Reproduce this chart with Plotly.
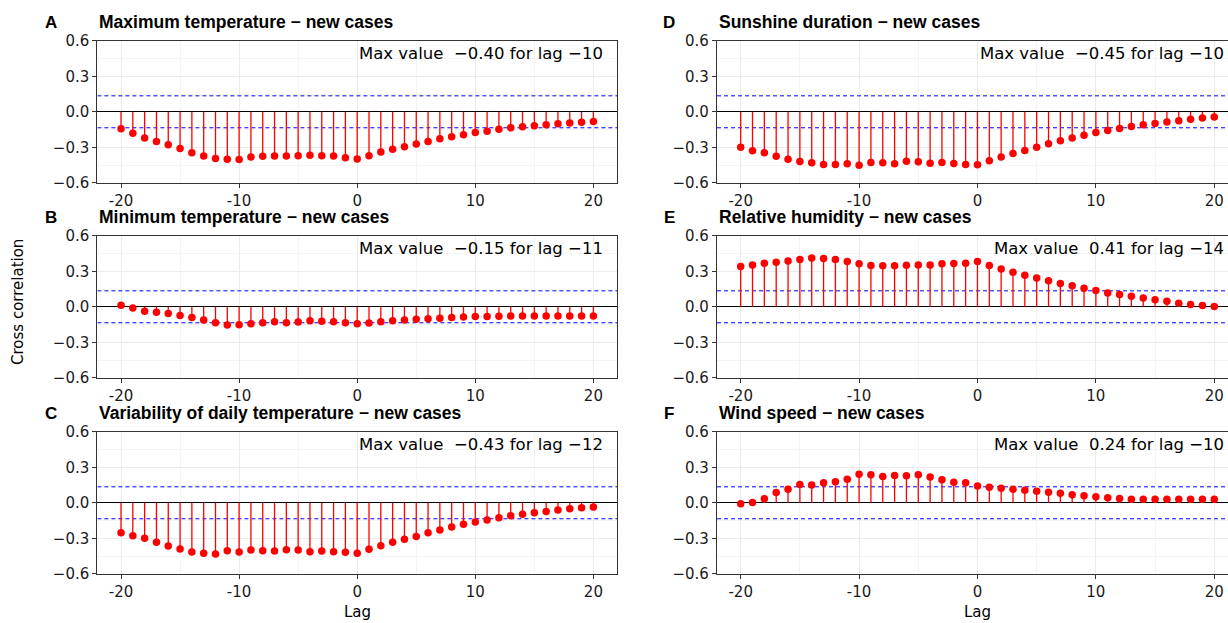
import plotly.graph_objects as go

lags = list(range(-20, 21))

max_temperature = [-0.144, -0.181, -0.221, -0.250, -0.279, -0.310, -0.345, -0.374, -0.394, -0.402,
                   -0.404, -0.382, -0.376, -0.374, -0.374, -0.371, -0.368, -0.371, -0.374, -0.388,
                   -0.398, -0.371, -0.339, -0.316, -0.296, -0.273, -0.250, -0.227, -0.210, -0.193,
                   -0.175, -0.164, -0.147, -0.135, -0.126, -0.118, -0.109, -0.100, -0.095, -0.089,
                   -0.083]
min_temperature = [0.014, -0.011, -0.037, -0.046, -0.057, -0.074, -0.091, -0.111, -0.134, -0.154,
                   -0.151, -0.143, -0.134, -0.126, -0.134, -0.129, -0.117, -0.123, -0.126, -0.134,
                   -0.143, -0.137, -0.126, -0.117, -0.111, -0.106, -0.100, -0.097, -0.091, -0.086,
                   -0.083, -0.083, -0.080, -0.077, -0.077, -0.077, -0.077, -0.077, -0.077, -0.077,
                   -0.077]
temp_variability = [-0.253, -0.278, -0.300, -0.334, -0.366, -0.390, -0.416, -0.427, -0.433, -0.405,
                    -0.416, -0.399, -0.405, -0.408, -0.396, -0.399, -0.413, -0.408, -0.413, -0.418,
                    -0.427, -0.393, -0.363, -0.334, -0.309, -0.284, -0.253, -0.230, -0.205, -0.182,
                    -0.163, -0.146, -0.127, -0.109, -0.096, -0.084, -0.073, -0.061, -0.051, -0.042,
                    -0.036]
sunshine = [-0.299, -0.330, -0.345, -0.376, -0.402, -0.420, -0.431, -0.446, -0.446, -0.440,
            -0.452, -0.428, -0.431, -0.440, -0.417, -0.422, -0.434, -0.428, -0.437, -0.446,
            -0.448, -0.414, -0.382, -0.353, -0.328, -0.299, -0.270, -0.244, -0.221, -0.198,
            -0.175, -0.158, -0.141, -0.124, -0.109, -0.098, -0.086, -0.075, -0.063, -0.052,
            -0.043]
humidity = [0.340, 0.354, 0.369, 0.377, 0.386, 0.400, 0.412, 0.409, 0.400, 0.383,
            0.363, 0.349, 0.346, 0.346, 0.351, 0.354, 0.354, 0.363, 0.366, 0.369,
            0.383, 0.349, 0.320, 0.291, 0.266, 0.243, 0.220, 0.197, 0.177, 0.157,
            0.137, 0.117, 0.103, 0.089, 0.074, 0.060, 0.046, 0.031, 0.020, 0.011,
            0.003]
wind_speed = [-0.009, 0.003, 0.034, 0.086, 0.114, 0.154, 0.151, 0.169, 0.177, 0.200,
              0.242, 0.238, 0.223, 0.231, 0.229, 0.236, 0.217, 0.194, 0.174, 0.169,
              0.143, 0.131, 0.123, 0.114, 0.106, 0.097, 0.089, 0.080, 0.069, 0.060,
              0.051, 0.043, 0.037, 0.031, 0.031, 0.031, 0.031, 0.031, 0.031, 0.031,
              0.031]

ci_bound = 0.135

series = [max_temperature, min_temperature, temp_variability, sunshine, humidity, wind_speed]
letters = ["A", "B", "C", "D", "E", "F"]
titles = ["Maximum temperature \u2212 new cases",
          "Minimum temperature \u2212 new cases",
          "Variability of daily temperature \u2212 new cases",
          "Sunshine duration \u2212 new cases",
          "Relative humidity \u2212 new cases",
          "Wind speed \u2212 new cases"]
max_labels = ["Max value\u00a0 \u22120.40 for lag \u221210",
              "Max value\u00a0 \u22120.15 for lag \u221211",
              "Max value\u00a0 \u22120.43 for lag \u221212",
              "Max value\u00a0 \u22120.45 for lag \u221210",
              "Max value\u00a0 0.41 for lag \u221214",
              "Max value\u00a0 0.24 for lag \u221210"]
x_tickvals = [-20, -10, 0, 10, 20]
x_ticktext = ["-20", "-10", "0", "10", "20"]
y_tickvals = [-0.6, -0.3, 0.0, 0.3, 0.6]
y_ticktext = ["\u22120.6", "\u22120.3", "0.0", "0.3", "0.6"]

W, H = 1228, 623
TITLE_FONT = "Liberation Sans, Arial, sans-serif"
TEXT_FONT = "DejaVu Sans, sans-serif"
x_doms = [[97.4 / W, 617.0 / W], [717.0 / W, 1.0]]
x_ranges = [[-22, 22], [-22, 21.16]]
panel_tops = [40.8, 235.8, 431.8]
panel_h = 142.0

fig = go.Figure()
layout_axes = {}
annotations = []

for i, vals in enumerate(series):
    col, row = i // 3, i % 3
    n = i + 1
    xname = "x" if n == 1 else f"x{n}"
    yname = "y" if n == 1 else f"y{n}"
    top = panel_tops[row]
    ydom = [1 - (top + panel_h) / H, 1 - top / H]

    for c in (ci_bound, -ci_bound):
        fig.add_trace(go.Scatter(x=x_ranges[col], y=[c, c], mode="lines",
                                 line=dict(color="blue", width=1, dash="4px,3px"),
                                 xaxis=xname, yaxis=yname, showlegend=False, hoverinfo="skip"))

    sx, sy = [], []
    for l, v in zip(lags, vals):
        sx += [l, l, None]
        sy += [0, v, None]
    fig.add_trace(go.Scatter(x=sx, y=sy, mode="lines", line=dict(color="red", width=1.3),
                             xaxis=xname, yaxis=yname, showlegend=False, hoverinfo="skip"))
    fig.add_trace(go.Scatter(x=lags, y=vals, mode="markers",
                             marker=dict(color="red", size=7.5, line=dict(width=0)),
                             xaxis=xname, yaxis=yname, showlegend=False))

    xkey = "xaxis" if n == 1 else f"xaxis{n}"
    ykey = "yaxis" if n == 1 else f"yaxis{n}"
    layout_axes[xkey] = dict(
        domain=x_doms[col], range=x_ranges[col], anchor=yname, automargin=False,
        tickmode="array", tickvals=x_tickvals, ticktext=x_ticktext,
        showgrid=True, gridcolor="#EBEBEB", gridwidth=1,
        minor=dict(tickvals=[-15, -5, 5, 15], showgrid=True, gridcolor="#F4F4F4", gridwidth=0.6),
        ticks="outside", ticklen=4, tickcolor="#333333", tickwidth=1,
        showline=True, linecolor="#333333", linewidth=1.2, mirror=True,
        zeroline=False, tickfont=dict(family=TEXT_FONT, size=15, color="#1a1a1a"),
        fixedrange=True,
    )
    layout_axes[ykey] = dict(
        domain=ydom, range=[-0.6, 0.6], anchor=xname, automargin=False,
        tickmode="array", tickvals=y_tickvals, ticktext=y_ticktext,
        showgrid=True, gridcolor="#EBEBEB", gridwidth=1,
        minor=dict(tickvals=[-0.45, -0.15, 0.15, 0.45], showgrid=True, gridcolor="#F4F4F4", gridwidth=0.6),
        ticks="outside", ticklen=4, tickcolor="#333333", tickwidth=1,
        showline=True, linecolor="#333333", linewidth=1.2, mirror=(col == 0),
        zeroline=True, zerolinecolor="black", zerolinewidth=1.2,
        tickfont=dict(family=TEXT_FONT, size=15, color="#1a1a1a"),
        fixedrange=True,
    )

    title_y = 1 - (top - 18.5) / H
    letter_x = (51 if col == 0 else 669) / W
    annotations.append(dict(text=f"<b>{letters[i]}</b>", xref="paper", yref="paper",
                            x=letter_x, y=title_y, xanchor="center", yanchor="middle",
                            showarrow=False, font=dict(family=TITLE_FONT, size=17, color="black")))
    annotations.append(dict(text=f"<b>{titles[i]}</b>", xref="paper", yref="paper",
                            x=x_doms[col][0], y=title_y, xanchor="left", yanchor="middle",
                            showarrow=False, font=dict(family=TITLE_FONT, size=17.5, color="black")))
    annotations.append(dict(text=max_labels[i], xref=xname, yref=yname,
                            x=20.95, y=0.49, xanchor="right", yanchor="middle",
                            showarrow=False, font=dict(family=TEXT_FONT, size=16.5, color="black")))

annotations.append(dict(text="Cross correlation", xref="paper", yref="paper",
                        x=18 / W, y=1 - 302 / H, xanchor="center", yanchor="middle",
                        textangle=-90, showarrow=False, font=dict(family=TEXT_FONT, size=15, color="black")))
for cx in (357, 977):
    annotations.append(dict(text="Lag", xref="paper", yref="paper",
                            x=cx / W, y=1 - 612 / H, xanchor="center", yanchor="middle",
                            showarrow=False, font=dict(family=TEXT_FONT, size=15, color="black")))

fig.update_layout(
    width=W, height=H, margin=dict(l=0, r=0, t=0, b=0, autoexpand=False),
    paper_bgcolor="white", plot_bgcolor="white",
    annotations=annotations, showlegend=False,
    font=dict(family=TEXT_FONT),
    **layout_axes,
)

fig.write_html("out.html")
